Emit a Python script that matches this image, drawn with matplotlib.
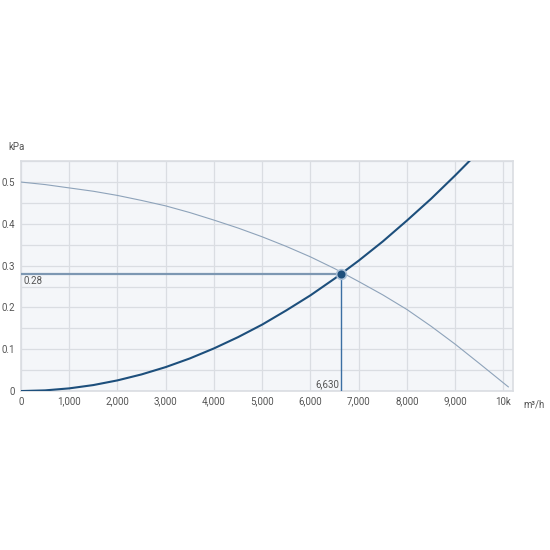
import matplotlib
matplotlib.use("Agg")
import matplotlib.pyplot as plt
from matplotlib.ticker import FuncFormatter, MultipleLocator

plt.rcParams["font.family"] = ["Roboto", "DejaVu Sans"]

# airflow (m3/h) and pressure (kPa)
flow_fan = [0, 500, 1000, 1500, 2000, 2500, 3000, 3500, 4000, 4500, 5000,
            5500, 6000, 6500, 7000, 7500, 8000, 8500, 9000, 9500, 10100]
press_fan = [0.500, 0.494, 0.486, 0.478, 0.468, 0.456, 0.443, 0.427, 0.409, 0.390, 0.369,
             0.346, 0.321, 0.293, 0.262, 0.230, 0.195, 0.155, 0.112, 0.066, 0.010]

flow_sys = [0, 500, 1000, 1500, 2000, 2500, 3000, 3500, 4000, 4500, 5000,
            5500, 6000, 6500, 7000, 7500, 8000, 8500, 9000, 9300]
press_sys = [0.0, 0.0016, 0.0064, 0.0143, 0.0255, 0.0398, 0.0573, 0.078, 0.102, 0.129, 0.159,
             0.193, 0.229, 0.269, 0.312, 0.358, 0.408, 0.460, 0.516, 0.551]

op_flow = 6630
op_press = 0.28

x_ticks = [0, 1000, 2000, 3000, 4000, 5000, 6000, 7000, 8000, 9000, 10000]
y_ticks = [0, 0.1, 0.2, 0.3, 0.4, 0.5]

fig = plt.figure(figsize=(5.5, 5.5), dpi=100)
ax = fig.add_axes([0.038, 0.289, 0.895, 0.418])
ax.set_facecolor("#f4f6f9")

ax.set_xlim(0, 10200)
ax.set_ylim(0, 0.55)

# grid
ax.set_xticks(x_ticks)
ax.set_yticks(y_ticks)
ax.yaxis.set_minor_locator(MultipleLocator(0.05))
ax.grid(True, which="major", color="#dadde2", lw=0.9)
ax.grid(True, which="minor", axis="y", color="#dadde2", lw=0.9)
ax.set_axisbelow(True)
for s in ax.spines.values():
    s.set_color("#dadde2")
    s.set_linewidth(1.2)

def fmt_x(v, pos):
    if v >= 10000:
        return "10k"
    return f"{int(v):,}"

def fmt_y(v, pos):
    if v == 0:
        return "0"
    return f"{v:g}"

ax.xaxis.set_major_formatter(FuncFormatter(fmt_x))
ax.yaxis.set_major_formatter(FuncFormatter(fmt_y))
ax.tick_params(which="both", length=0, labelsize=7, colors="#555555", pad=4)

# curves
ax.plot(flow_fan, press_fan, color="#8ea3ba", lw=0.8, zorder=3)
ax.plot(flow_sys, press_sys, color="#1d4f7c", lw=1.5, zorder=4)

# operating point guides
ax.plot([0, op_flow], [op_press, op_press], color="#7d97b2", lw=1.6, zorder=3)
ax.plot([op_flow, op_flow], [0, op_press], color="#3b6fa3", lw=1.0, zorder=3)
ax.plot([op_flow], [op_press], marker="o", ms=7, mfc="#1d4f7c", mec="#a9bfd6",
        mew=1.2, zorder=5)

ax.text(60, op_press - 0.004, "0.28", fontsize=7, color="#555555", va="top", ha="left")
ax.text(op_flow - 30, 0.004, "6,630", fontsize=7, color="#555555", va="bottom", ha="right")

fig.text(8 / 550, 1 - 147 / 550, "kPa", fontsize=7, color="#555555", va="center", ha="left")
fig.text(523 / 550, 1 - 404 / 550, "m³/h", fontsize=7, color="#555555", va="center", ha="left")

fig.savefig("out.png", dpi=100)
